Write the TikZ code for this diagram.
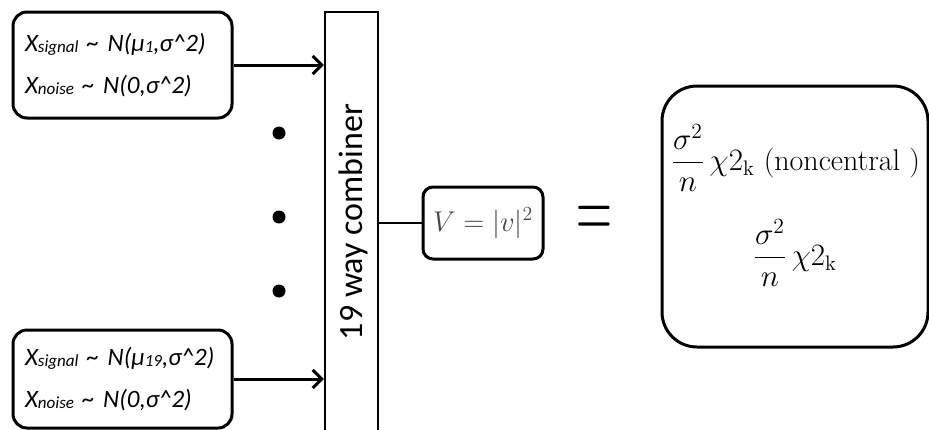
\documentclass[tikz,border=0pt]{standalone}
\usepackage{fontspec}
\usepackage{graphicx}
\usetikzlibrary{arrows.meta}
\newfontfamily\calfont{Carlito}
\newcommand{\smalltxt}[1]{{\fontsize{17}{17}\selectfont\raisebox{-1.5pt}{#1}}}
\definecolor{vgray}{HTML}{454545}
\tikzset{
  boxline/.style={draw, line width=3pt},
  inbox/.style={boxline, rounded corners=14pt, minimum width=219pt, inner sep=0pt,
    text width=195pt, align=left, font=\calfont\itshape\fontsize{25}{42}\selectfont},
  arr/.style={-{Straight Barb[length=9pt,width=18pt]}, line width=3pt},
  dotnode/.style={circle, fill, inner sep=0pt, minimum size=13pt},
  combbox/.style={draw, line width=2.3pt, inner sep=0pt, minimum width=53pt, minimum height=440pt},
  vbox/.style={boxline, rounded corners=10pt, inner sep=0pt, minimum width=120pt, minimum height=72pt,
    text=vgray, font=\fontsize{20}{24}\selectfont},
  outbox/.style={boxline, rounded corners=35pt, inner sep=0pt, minimum width=266pt, minimum height=261pt},
  mathtxt/.style={inner sep=0pt, font=\fontsize{20}{24}\selectfont}
}
\begin{document}
\begin{tikzpicture}[x=1pt,y=-1pt]
\useasboundingbox (0,0) rectangle (929,429);
% input boxes
\node[inbox, minimum height=106pt] (in1) at (122.5,65)
  {X\smalltxt{signal} \textasciitilde{} N(μ\smalltxt{1},σ\textasciicircum 2)\\
   X\smalltxt{noise} \textasciitilde{} N(0,σ\textasciicircum 2)};
\node[inbox, minimum height=98pt] (in2) at (122.5,379)
  {X\smalltxt{signal} \textasciitilde{} N(μ\smalltxt{19},σ\textasciicircum 2)\\
   X\smalltxt{noise} \textasciitilde{} N(0,σ\textasciicircum 2)};
% dots
\node[dotnode] (d1) at (279,133) {};
\node[dotnode] (d2) at (279,217) {};
\node[dotnode] (d3) at (279,291) {};
% combiner
\node[combbox] (comb) at (351.5,232) {};
\node[rotate=90, inner sep=0pt, font=\calfont\fontsize{34}{34}\selectfont] (comblabel) at (353,222) {19 way combiner};
% arrows
\draw[arr] (in1.east) -- (in1.east -| comb.west);
\draw[arr] (in2.east) -- (in2.east -| comb.west);
% V box
\node[vbox] (V) at (483,223) {\scalebox{1.38}{$V = |v|^2$}};
\draw[line width=2.3pt] (comb.east |- V.west) -- (V.west);
% equal sign
\node[inner sep=0pt, font=\fontsize{20}{24}\selectfont] (eq) at (594,222.8) {\scalebox{2.4}[4.5]{$=$}};
% output box
\node[outbox] (out) at (795,216.5) {};
\node[mathtxt, anchor=west] (f1) at (671,158) {\scalebox{1.5}{$\displaystyle\frac{\sigma^2}{n}\,\chi 2_{\mathrm{k}}$ (noncentral )}};
\node[mathtxt] (f2) at (795,253) {\scalebox{1.5}{$\displaystyle\frac{\sigma^2}{n}\,\chi 2_{\mathrm{k}}$}};
\end{tikzpicture}
\end{document}
